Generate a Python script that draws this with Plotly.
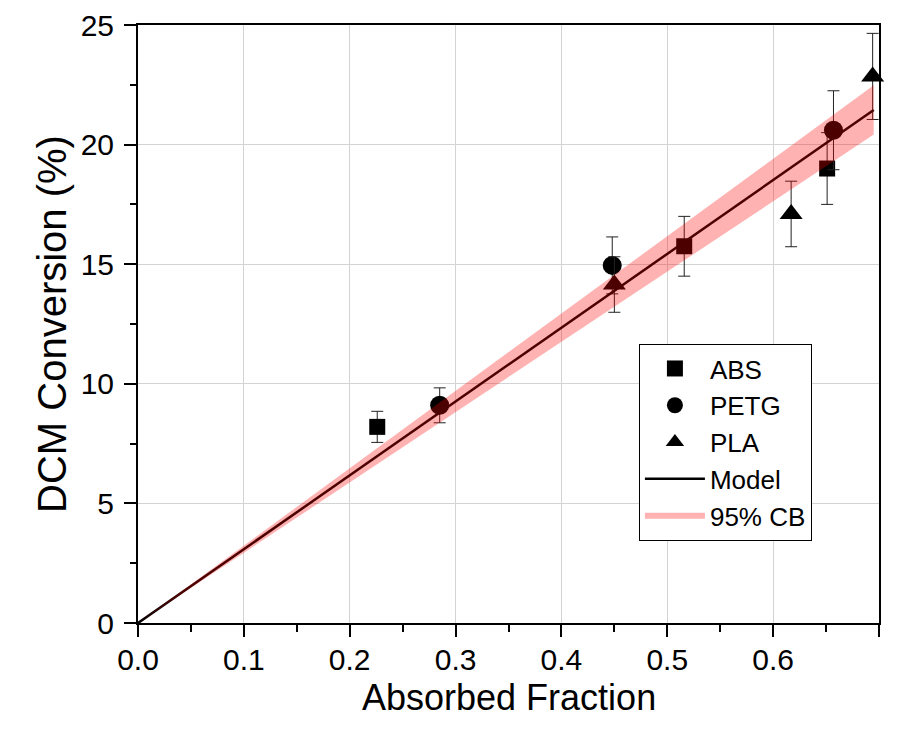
import plotly.graph_objects as go

# --- data ---
abs_x = [0.226, 0.516, 0.651]
abs_y = [8.2, 15.75, 19.0]
abs_err = [0.65, 1.25, 1.5]

petg_x = [0.285, 0.448, 0.657]
petg_y = [9.1, 14.95, 20.6]
petg_err = [0.73, 1.19, 1.65]

pla_x = [0.450, 0.617, 0.694]
pla_y = [14.15, 17.1, 22.85]
pla_err = [1.16, 1.37, 1.8]

model_x = [0.0, 0.695]
model_y = [0.0, 21.45]
band_upper = [0.0, 22.48]
band_lower = [0.0, 20.42]

x_ticks = [0.0, 0.1, 0.2, 0.3, 0.4, 0.5, 0.6, 0.7]
y_ticks = [0, 5, 10, 15, 20, 25]

x_title = "Absorbed Fraction"
y_title = "DCM Conversion (%)"

FONT = "Arial, Liberation Sans, sans-serif"

fig = go.Figure()

def err(vals):
    return dict(type="data", array=vals, visible=True, color="#222222",
                thickness=1, width=6)

fig.add_trace(go.Scatter(
    x=abs_x, y=abs_y, mode="markers", name="ABS",
    marker=dict(symbol="square", size=16, color="black"),
    error_y=err(abs_err), cliponaxis=False))
fig.add_trace(go.Scatter(
    x=petg_x, y=petg_y, mode="markers", name="PETG",
    marker=dict(symbol="circle", size=19, color="black"),
    error_y=err(petg_err), cliponaxis=False))
fig.add_trace(go.Scatter(
    x=pla_x, y=pla_y, mode="markers", name="PLA",
    marker=dict(symbol="triangle-up", size=20, color="black"),
    error_y=err(pla_err), cliponaxis=False))
fig.add_trace(go.Scatter(
    x=model_x, y=model_y, mode="lines", name="Model",
    line=dict(color="black", width=2.5)))
fig.add_trace(go.Scatter(
    x=model_x + model_x[::-1], y=band_upper + band_lower[::-1],
    mode="none", fill="toself", name="95% CB",
    fillcolor="rgba(255,0,0,0.3)",
    hoverinfo="skip"))

axis_common = dict(
    showline=True, linecolor="black", linewidth=2, mirror=True,
    ticks="outside", ticklen=12, tickwidth=2, tickcolor="black",
    showgrid=True, gridcolor="#d3d3d3", gridwidth=1, zeroline=False,
    tickfont=dict(family=FONT, size=30, color="black"),
    automargin=False,
)

fig.update_xaxes(
    range=[0, 0.7], tickvals=x_ticks, tickformat=".1f", ticklabelstandoff=-3,
    minor=dict(dtick=0.05, ticks="outside", ticklen=7, tickwidth=2, tickcolor="black", showgrid=False),
    **axis_common)
fig.update_yaxes(
    range=[0, 25], tickvals=y_ticks, ticklabelstandoff=4,
    title=dict(text=y_title + "\u00a0\u00a0\u2009", font=dict(family=FONT, size=40, color="black"), standoff=2),
    minor=dict(dtick=2.5, ticks="outside", ticklen=6, tickwidth=2, tickcolor="black", showgrid=False),
    **axis_common)

fig.add_annotation(
    text=x_title, xref="paper", yref="paper", x=0.5, y=0,
    xanchor="center", yanchor="bottom", yshift=-97, showarrow=False,
    font=dict(family=FONT, size=36, color="black"))

fig.update_layout(
    width=882, height=713,
    margin=dict(l=130, r=11, t=17, b=98),
    paper_bgcolor="white", plot_bgcolor="white",
    font=dict(family=FONT, color="black"),
    legend=dict(
        x=0.676, y=0.137, xanchor="left", yanchor="bottom",
        bgcolor="white", bordercolor="black", borderwidth=1,
        font=dict(family=FONT, size=26, color="black"),
        itemwidth=60, tracegroupgap=0,
    ),
    showlegend=True,
)

fig.write_html("out.html")
